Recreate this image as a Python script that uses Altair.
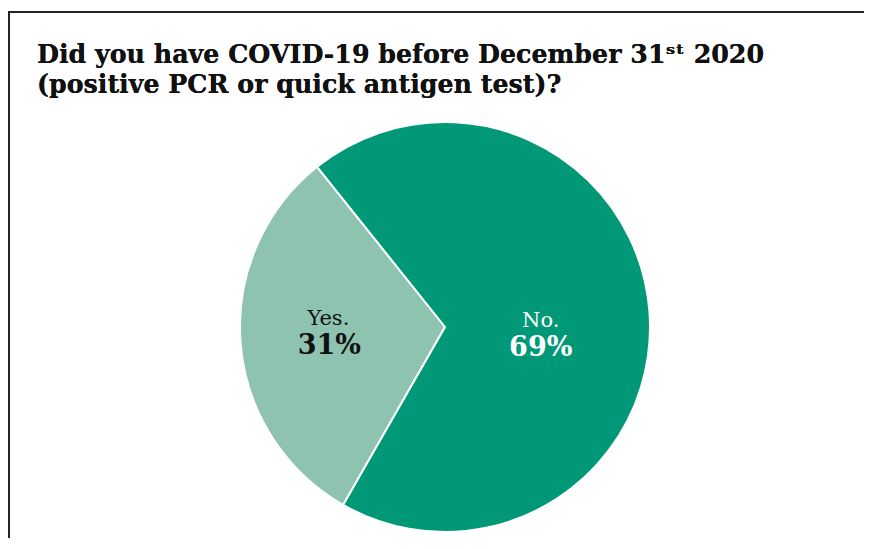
import math
import altair as alt
import pandas as pd

categories = ["Yes.", "No."]
values = [31, 69]
pct_labels = ["31%", "69%"]
order = [0, 1]
colors = ["#8dc3af", "#009877"]

title_lines = ["Did you have COVID-19 before December 31ˢᵗ 2020",
               "(positive PCR or quick antigen test)?"]

df = pd.DataFrame({"answer": categories, "value": values, "pct": pct_labels, "order": order})

W, H = 856, 530
CX, CY, R = 437, 319, 205
start = math.radians(209.8)

theta = alt.Theta("value:Q", stack=True,
                  scale=alt.Scale(range=[start, start + 2 * math.pi]))
color = alt.Color("answer:N", scale=alt.Scale(domain=categories, range=colors), legend=None)

base = alt.Chart(df).encode(theta=theta, order=alt.Order("order:Q"),
                            x=alt.value(CX), y=alt.value(CY))

pie = base.mark_arc(outerRadius=R, stroke="white", strokeWidth=2).encode(color=color)

serif = "DejaVu Serif"


def only(cat, field):
    return base.transform_calculate(
        lab=f"datum.answer == '{cat}' ? datum.{field} : ''")


yes_name = only("Yes.", "answer").mark_text(
    radius=115, dx=-2, dy=-17, font=serif, fontSize=21, color="#111",
    baseline="middle").encode(text="lab:N")
yes_pct = only("Yes.", "pct").mark_text(
    radius=115, dx=-1, dy=10, font=serif, fontSize=27, fontWeight="bold", color="#111",
    baseline="middle").encode(text="lab:N")
no_name = only("No.", "answer").mark_text(
    radius=96, dy=1, font=serif, fontSize=21, color="white",
    baseline="middle").encode(text="lab:N")
no_pct = only("No.", "pct").mark_text(
    radius=96, dy=28, font=serif, fontSize=27, fontWeight="bold", color="white",
    baseline="middle").encode(text="lab:N")

title_style = dict(align="left", baseline="alphabetic", font=serif,
                   fontSize=25.3, fontWeight="bold", color="#111")
title1 = alt.Chart(df).mark_text(**title_style).encode(
    x=alt.value(29), y=alt.value(55), text=alt.value(title_lines[0]))
title2 = alt.Chart(df).mark_text(**title_style).encode(
    x=alt.value(29), y=alt.value(85), text=alt.value(title_lines[1]))

border = alt.Chart(df).mark_rect(fill="transparent", stroke="#222", strokeWidth=2).encode(
    x=alt.value(1), x2=alt.value(2000), y=alt.value(4), y2=alt.value(2000))

chart = alt.layer(border, pie, yes_name, yes_pct, no_name, no_pct, title1, title2).properties(
    width=W, height=H, autosize=alt.AutoSizeParams(type="none"), padding=0
).configure_view(stroke=None)

chart.save("out.html", embed_options={"renderer": "svg", "actions": False})
